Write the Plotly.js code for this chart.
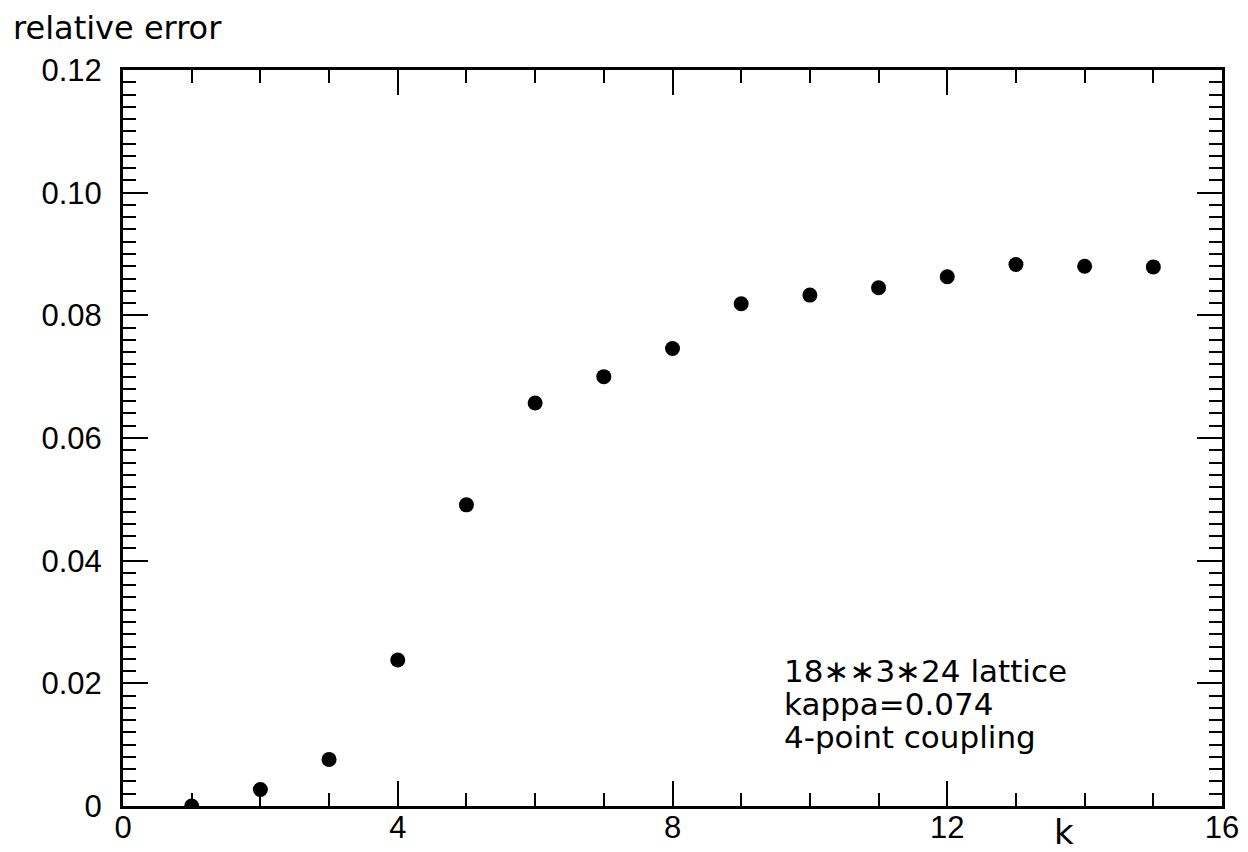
<!DOCTYPE html>
<html>
<head>
<meta charset="utf-8">
<script src="https://cdn.plot.ly/plotly-3.0.1.min.js"></script>
<style>html,body{margin:0;padding:0;background:#fff;}#chart{width:1248px;height:852px;}</style>
</head>
<body>
<div id="chart"></div>
<script>
// Data
const kValues = [1, 2, 3, 4, 5, 6, 7, 8, 9, 10, 11, 12, 13, 14, 15];
const relErrors = [0.0, 0.0027, 0.0076, 0.0238, 0.0491, 0.0657, 0.0700, 0.0746, 0.0819, 0.0833, 0.0845, 0.0863, 0.0883, 0.0880, 0.0879];
const xTickVals = [0, 4, 8, 12, 16];
const xTickText = ["0", "4", "8", "12", "16"];
const yTickVals = [0, 0.02, 0.04, 0.06, 0.08, 0.10, 0.12];
const yTickText = ["0", "0.02", "0.04", "0.06", "0.08", "0.10", "0.12"];
const infoLines = ["18\u2217\u22173\u221724 lattice", "kappa=0.074", "4-point coupling"];
const titleText = "relative error";
const xLabelText = "k";

const textFont = "DejaVu Sans, sans-serif";
const tickFont = "Liberation Sans, sans-serif";

const trace = {
  x: kValues, y: relErrors, type: "scatter", mode: "markers",
  marker: {color: "#000", size: 15, line: {width: 0}},
  cliponaxis: true, hoverinfo: "skip"
};

const axisCommon = {
  showline: true, linecolor: "#000", linewidth: 3, mirror: "ticks",
  ticks: "inside", ticklen: 25, tickwidth: 2, tickcolor: "#000",
  showgrid: false, zeroline: false, tickmode: "array",
  tickfont: {family: tickFont, size: 31, color: "#000"}
};

const annInfo = infoLines.map((t, i) => ({
  text: t, xref: "x", yref: "y", x: 9.6, y: [0.0220, 0.0167, 0.0113][i],
  xanchor: "left", yanchor: "middle", showarrow: false,
  font: {family: textFont, size: 31, color: "#000"}
}));

const layout = {
  width: 1248, height: 852,
  margin: {l: 123, r: 26, t: 70, b: 46},
  paper_bgcolor: "#fff", plot_bgcolor: "#fff",
  showlegend: false,
  title: {text: titleText, x: 13 / 1248, xanchor: "left", xref: "container",
          y: 1 - 28 / 852, yanchor: "middle", yref: "container",
          font: {family: textFont, size: 32, color: "#000"}},
  xaxis: Object.assign({}, axisCommon, {
    range: [0, 16], tickvals: xTickVals, ticktext: xTickText, ticklabelstandoff: -8,
    minor: {tickmode: "linear", tick0: 0, dtick: 1, ticks: "inside", ticklen: 13, tickwidth: 2, tickcolor: "#000"}
  }),
  yaxis: Object.assign({}, axisCommon, {
    range: [0, 0.12], tickvals: yTickVals, ticktext: yTickText, ticklabelstandoff: 12,
    minor: {tickmode: "linear", tick0: 0, dtick: 0.002, ticks: "inside", ticklen: 13, tickwidth: 2, tickcolor: "#000"}
  }),
  annotations: annInfo.concat([{
    text: xLabelText, xref: "x", yref: "paper", x: 13.7, y: -0.036,
    xanchor: "center", yanchor: "middle", showarrow: false,
    font: {family: textFont, size: 34, color: "#000"}
  }])
};

Plotly.newPlot("chart", [trace], layout, {staticPlot: true, displayModeBar: false});
</script>
</body>
</html>
